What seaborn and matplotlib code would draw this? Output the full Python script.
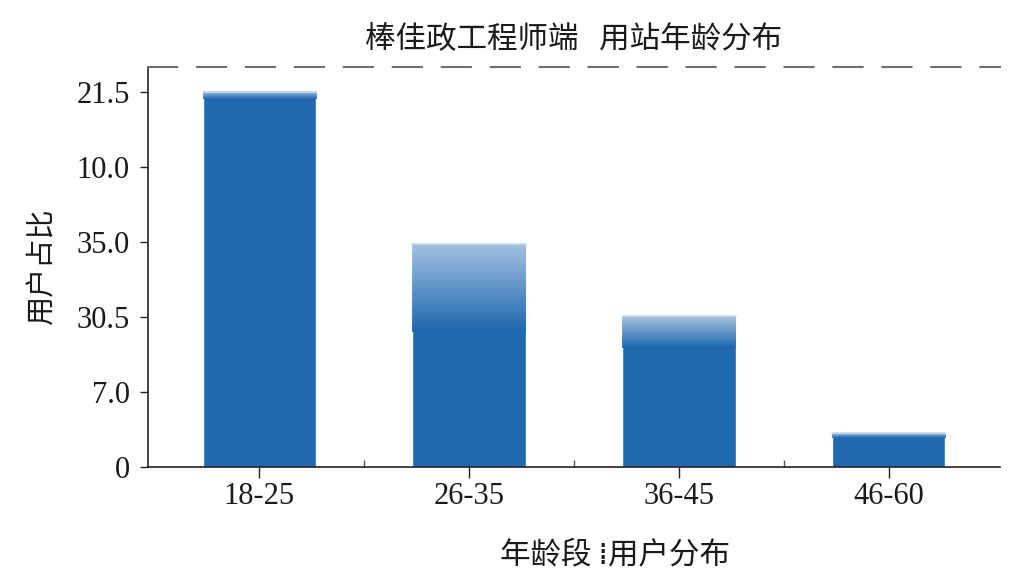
import numpy as np
import pandas as pd
import matplotlib
matplotlib.use('Agg')
import matplotlib.pyplot as plt
import seaborn as sns
from matplotlib.colors import LinearSegmentedColormap

# --- data ---
age_groups = ['18-25', '26-35', '36-45', '46-60']
share = [50.0, 29.7, 20.2, 4.5]          # bar heights in axis units
ytick_pos = [0, 10, 20, 30, 40, 50]
ytick_labels = ['0', '7.0', '30.5', '35.0', '10.0', '21.5']

title = '棒佳政工程师端   用站年龄分布'
xlabel = '年龄段 ⁞用户分布'
ylabel = '用户占比'

df = pd.DataFrame({'age': age_groups, 'share': share})

sns.set_theme(style='white')
plt.rcParams['font.family'] = ['Noto Sans CJK SC', 'DejaVu Sans']

bar_color = '#2068b0'
fig = plt.figure(figsize=(10.24, 5.76), dpi=100)
ax = fig.add_axes([0.1445, 0.1892, 0.832, 0.6944])

sns.barplot(data=df, x='age', y='share', color=bar_color, saturation=1,
            width=0.54, ax=ax)

ax.set_xlim(-0.53, 3.53)
ax.set_ylim(0, 53.33)

# lighter fade on top of each bar (fraction of axis height)
fade = [0.018, 0.22, 0.08, 0.012]
cmap = LinearSegmentedColormap.from_list('fade', ['#2068b0', '#a9c6e2'])
grad = np.linspace(0, 1, 64).reshape(-1, 1)
ymax = ax.get_ylim()[1]
for p, f in zip(ax.patches, fade):
    x0 = p.get_x()
    x1 = x0 + p.get_width()
    top = p.get_height()
    bot = top - f * ymax
    ax.imshow(grad, extent=[x0, x1, bot, top], origin='lower', cmap=cmap,
              aspect='auto', zorder=3, alpha=0.95)
    ax.plot([x0, x1], [top, top], color='#c8dbee', lw=1.2, zorder=4)
ax.set_xlim(-0.53, 3.53)
ax.set_ylim(0, 53.33)

# axes styling
ax.spines['right'].set_visible(False)
ax.spines['top'].set_color('#707070')
ax.spines['top'].set_linestyle((0, (14, 9.5)))
ax.spines['top'].set_linewidth(1.5)
ax.spines['left'].set_color('#222222')
ax.spines['bottom'].set_color('#222222')
ax.spines['left'].set_linewidth(1.2)
ax.spines['bottom'].set_linewidth(1.2)

serif = {'family': 'Liberation Serif', 'size': 22, 'color': '#1a1a1a'}
ax.set_yticks(ytick_pos)
ax.set_yticklabels(ytick_labels, fontdict=serif)
ax.set_xticks(range(len(age_groups)))
ax.set_xticklabels(age_groups, fontdict=serif)
ax.set_xticks([0.5, 1.5, 2.5], minor=True)
ax.tick_params(axis='y', which='major', direction='out', length=6, width=1,
               color='#222222', left=True, pad=7)
ax.tick_params(axis='x', which='major', direction='out', length=8, width=1,
               color='#222222', bottom=True, pad=3)
ax.tick_params(axis='x', which='minor', direction='in', length=5, width=1,
               color='#555555', bottom=True)

ax.set_xlabel(xlabel, fontsize=22, color='#1a1a1a')
ax.xaxis.set_label_coords(0.548, -0.18)
ax.set_ylabel(ylabel, fontsize=21, color='#1a1a1a', labelpad=14)
ax.set_title(title, fontsize=22, color='#1a1a1a', pad=14)

fig.savefig('out.png', dpi=100, facecolor='white')
